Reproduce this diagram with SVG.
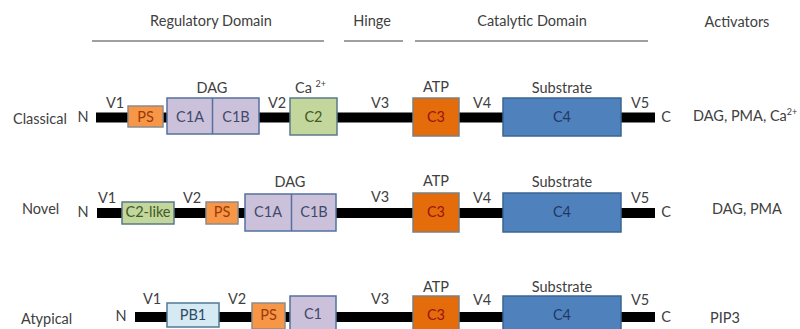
<svg xmlns="http://www.w3.org/2000/svg" width="800" height="329" viewBox="0 0 800 329">
<style>
text{font-family:Lato,"Open Sans","Liberation Sans",sans-serif;font-size:14.5px;fill:#404040}
.m{text-anchor:middle}
.hd{stroke:#808080;stroke-width:1.5}
.bar{fill:#000}
.ps{fill:#F79646;stroke:#8C8C8C;stroke-width:1.5}
.c1{fill:#CCC1DA;stroke:#55709E;stroke-width:1.5}
.c2{fill:#C3D69B;stroke:#5B7A8A;stroke-width:1.5}
.c3{fill:#E46C0A;stroke:#7F7F7F;stroke-width:1.5}
.c4{fill:#4F81BD;stroke:#3A6494;stroke-width:1.5}
.pb{fill:#D6EAF4;stroke:#4F7A96;stroke-width:1.5}
.tps{fill:#9A3A0A}
.tc1{fill:#3F4A6A}
.tc2{fill:#3E5A2A}
.tc3{fill:#A01010}
.tc4{fill:#1F3864}
.tpb{fill:#2F4A66}
.sup{font-size:9px}
</style>
<g id="header">
<text class="m" x="211" y="26">Regulatory Domain</text>
<text class="m" x="372" y="26">Hinge</text>
<text class="m" x="532" y="26">Catalytic Domain</text>
<text class="m" x="737" y="27">Activators</text>
<line class="hd" x1="92" y1="41" x2="324" y2="41"/>
<line class="hd" x1="344" y1="41" x2="403" y2="41"/>
<line class="hd" x1="415" y1="41" x2="648" y2="41"/>
</g>
<g id="connectors">
<rect class="bar" x="96" y="112.5" width="559" height="10"/>
<rect class="bar" x="97" y="208" width="558" height="10"/>
<rect class="bar" x="135" y="312" width="520" height="10"/>
</g>
<g id="classical">
<text x="13" y="124">Classical</text>
<text class="m" x="83" y="122">N</text>
<text class="m" x="115" y="108">V1</text>
<text class="m" x="277" y="108">V2</text>
<text class="m" x="380" y="108">V3</text>
<text class="m" x="482" y="108">V4</text>
<text class="m" x="640" y="108">V5</text>
<text class="m" x="666" y="122">C</text>
<text x="693" y="121">DAG, PMA, Ca<tspan class="sup" dy="-6">2+</tspan></text>
</g>
<g id="classical-ps"><rect class="ps" x="128" y="106" width="35" height="21"/><text class="m tps" x="145.5" y="122">PS</text></g>
<g id="classical-c1"><text class="m" x="212" y="93">DAG</text><rect class="c1" x="167" y="98" width="92" height="36"/><line class="c1" x1="212.5" y1="98" x2="212.5" y2="134"/><text class="m tc1" x="190" y="122">C1A</text><text class="m tc1" x="236" y="122">C1B</text></g>
<g id="classical-c2"><text x="295" y="93">Ca <tspan class="sup" dy="-6">2+</tspan></text><rect class="c2" x="290" y="98" width="47" height="37"/><text class="m tc2" x="313.5" y="122">C2</text></g>
<g id="classical-c3"><text class="m" x="436" y="92">ATP</text><rect class="c3" x="413" y="98" width="46" height="38"/><text class="m tc3" x="436" y="122">C3</text></g>
<g id="classical-c4"><text class="m" x="562" y="93">Substrate</text><rect class="c4" x="503" y="98" width="118" height="38"/><text class="m tc4" x="562" y="122">C4</text></g>

<g id="novel">
<text x="22" y="214">Novel</text>
<text class="m" x="83" y="217">N</text>
<text class="m" x="107" y="203">V1</text>
<text class="m" x="192" y="203">V2</text>
<text class="m" x="380" y="202">V3</text>
<text class="m" x="482" y="203">V4</text>
<text class="m" x="640" y="203">V5</text>
<text class="m" x="666" y="217">C</text>
<text x="712" y="214">DAG, PMA</text>
</g>
<g id="novel-c2like"><rect class="c2" x="122" y="202" width="52" height="22"/><text class="m tc2" x="148" y="217">C2-like</text></g>
<g id="novel-ps"><rect class="ps" x="206" y="202" width="32" height="22"/><text class="m tps" x="222" y="217">PS</text></g>
<g id="novel-c1"><text class="m" x="290" y="187">DAG</text><rect class="c1" x="245" y="194" width="91" height="37"/><line class="c1" x1="291.5" y1="194" x2="291.5" y2="231"/><text class="m tc1" x="268" y="217">C1A</text><text class="m tc1" x="314" y="217">C1B</text></g>
<g id="novel-c3"><text class="m" x="436" y="186">ATP</text><rect class="c3" x="413" y="193" width="46" height="39"/><text class="m tc3" x="436" y="217">C3</text></g>
<g id="novel-c4"><text class="m" x="562" y="187">Substrate</text><rect class="c4" x="503" y="193" width="118" height="39"/><text class="m tc4" x="562" y="217">C4</text></g>

<g id="atypical">
<text x="21" y="324">Atypical</text>
<text class="m" x="121" y="321">N</text>
<text class="m" x="152" y="304">V1</text>
<text class="m" x="237" y="304">V2</text>
<text class="m" x="380" y="304">V3</text>
<text class="m" x="482" y="305">V4</text>
<text class="m" x="640" y="305">V5</text>
<text class="m" x="666" y="322">C</text>
<text x="710" y="323">PIP3</text>
</g>
<g id="atypical-pb1"><rect class="pb" x="167" y="303" width="52" height="24"/><text class="m tpb" x="193" y="320">PB1</text></g>
<g id="atypical-ps"><rect class="ps" x="252" y="303" width="33" height="26"/><text class="m tps" x="268.5" y="320">PS</text></g>
<g id="atypical-c1"><rect class="c1" x="290" y="296" width="46" height="40"/><text class="m tc1" x="313" y="319">C1</text></g>
<g id="atypical-c3"><text class="m" x="436" y="292">ATP</text><rect class="c3" x="413" y="296" width="46" height="40"/><text class="m tc3" x="436" y="320">C3</text></g>
<g id="atypical-c4"><text class="m" x="562" y="292">Substrate</text><rect class="c4" x="503" y="296" width="118" height="40"/><text class="m tc4" x="562" y="320">C4</text></g>
</svg>
